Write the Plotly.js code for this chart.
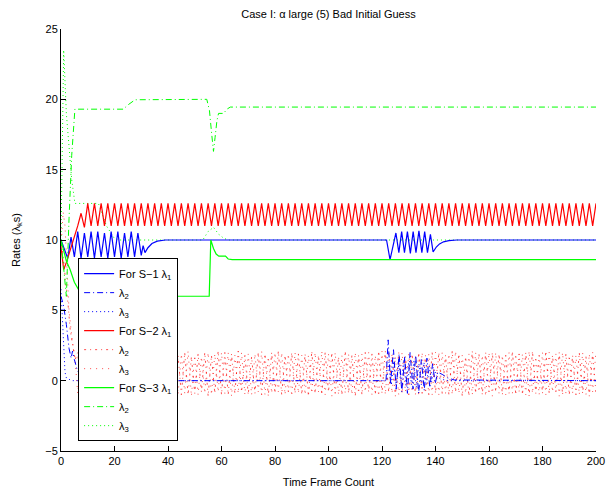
<!DOCTYPE html>
<html><head><meta charset="utf-8">
<script src="https://cdn.plot.ly/plotly-3.0.1.min.js"></script>
<style>html,body{margin:0;padding:0;background:#fff}#plot{width:610px;height:492px}</style>
</head><body><div id="plot"></div>
<script>
// shared time grid for the fast oscillating parts (frames)
const tZig = [6.25,7.5,8.75,10,
11.25,12.5,13.75,15,16.25,17.5,18.75,20,
21.25,22.5,23.75,25,26.25,27.5,28.75,30,
31.25,32.5,33.75,35,36.25,37.5,38.75,40,
41.25,42.5,43.75,45,46.25,47.5,48.75,50,
51.25,52.5,53.75,55,56.25,57.5,58.75,60,
61.25,62.5,63.75,65,66.25,67.5,68.75,70,
71.25,72.5,73.75,75,76.25,77.5,78.75,80,
81.25,82.5,83.75,85,86.25,87.5,88.75,90,
91.25,92.5,93.75,95,96.25,97.5,98.75,100,
101.25,102.5,103.75,105,106.25,107.5,108.75,110,
111.25,112.5,113.75,115,116.25,117.5,118.75,120,
121.25,122.5,123.75,125,126.25,127.5,128.75,130,
131.25,132.5,133.75,135,136.25,137.5,138.75,140,
141.25,142.5,143.75,145,146.25,147.5,148.75,150,
151.25,152.5,153.75,155,156.25,157.5,158.75,160,
161.25,162.5,163.75,165,166.25,167.5,168.75,170,
171.25,172.5,173.75,175,176.25,177.5,178.75,180,
181.25,182.5,183.75,185,186.25,187.5,188.75,190,
191.25,192.5,193.75,195,196.25,197.5,198.75,200];

// S-1 (blue)
const tS1L1 = [0,1.25,2.5,3.75,5,6.25,7.5,8.75,10,11.25,12.5,13.75,15,16.25,17.5,18.75,20,21.25,22.5,23.75,25,26.25,27.5,28.75,30,30.7,31.4,32.5,34,36,39,121.7,123,125.2,126.3,127.35,128.4,129.5,130.6,131.65,132.7,133.8,134.9,135.95,137,138.1,139.1,140.3,141.5,143,145,148,200];
const vS1L1 = [10,9.4,8.7,10.2,8.8,10.6,8.7,10.5,8.8,10.6,8.7,10.6,8.8,10.5,8.7,10.6,8.8,10.6,8.7,10.5,8.8,10.6,8.8,10.5,8.9,9.6,9.1,9.45,9.75,9.92,10,10,8.6,10.5,9.1,10.6,9.1,10.6,9.05,10.6,9.1,10.65,9.1,10.6,9.1,10.4,9.15,9.5,9.72,9.87,9.95,10,10];
const tS1L2 = [0,1,2,3,3.8,4.3,5,6,7,9,12,15,121.5,122.3,123.2,124.3,125.3,126.4,127.4,128.5,129.5,130.5,131.6,132.6,133.7,134.7,135.8,136.8,137.9,138.9,139.9,140.8,142.5,144.5,147,200];
const vS1L2 = [6,5.3,4.0,2.3,1.6,2.1,1.5,0.8,0.4,0.15,0.05,0,0,2.9,-0.2,2.2,-0.6,1.9,-0.8,1.7,-0.9,2.0,-0.6,1.8,-0.9,1.5,-0.7,1.6,-0.5,1.2,-0.2,0.6,0.45,0.2,0.05,0];
const tS1L3 = [0,0.5,1,1.5,2,4,121.8,122.6,123.5,124.4,125.3,126.3,127.2,128.1,129,130,131,131.9,132.8,133.8,134.7,135.7,136.6,137.6,138.5,139.5,140.5,142,145,200];
const vS1L3 = [6.5,4.5,2.5,0.6,0.2,0,0,1.3,-0.3,1.4,-0.4,1.2,-0.2,1.5,-0.4,1.3,-0.3,1.4,-0.5,1.2,-0.3,1.3,-0.2,1.1,-0.1,0.8,0.3,0.1,0,0];

// S-2 (red): start transients, then oscillation on tZig
const tS2L1Start = [0,1,2,3,4,5];
const vS2L1Start = [9.5,7.9,8.4,9.0,9.6,10.2];
const vS2L1Zig = [11.0,11.9,10.9,12.6,
11.0,12.6,11.0,12.6,11.0,12.6,11.0,12.6,
11.0,12.6,11.0,12.6,11.0,12.6,11.0,12.6,
11.0,12.6,11.0,12.6,11.0,12.6,11.0,12.6,
11.0,12.6,11.0,12.6,11.0,12.6,11.0,12.6,
11.0,12.6,11.0,12.6,11.0,12.6,11.0,12.6,
11.0,12.6,11.0,12.6,11.0,12.6,11.0,12.6,
11.0,12.6,11.0,12.6,11.0,12.6,11.0,12.6,
11.0,12.6,11.0,12.6,11.0,12.6,11.0,12.6,
11.0,12.6,11.0,12.6,11.0,12.6,11.0,12.6,
11.0,12.6,11.0,12.6,11.0,12.6,11.0,12.6,
11.0,12.6,11.0,12.6,11.0,12.6,11.0,12.6,
11.0,12.6,11.0,12.6,11.0,12.6,11.0,12.6,
11.0,12.6,11.0,12.6,11.0,12.6,11.0,12.6,
11.0,12.6,11.0,12.6,11.0,12.6,11.0,12.6,
11.0,12.6,11.0,12.6,11.0,12.6,11.0,12.6,
11.0,12.6,11.0,12.6,11.0,12.6,11.0,12.6,
11.0,12.6,11.0,12.6,11.0,12.6,11.0,12.6,
11.0,12.6,11.0,12.6,11.0,12.6,11.0,12.6,
11.0,12.6,11.0,12.6,11.0,12.6,11.0,12.6];
const tS2L2Start = [0,1,2,2.6,3.5,4.5,5.3];
const vS2L2Start = [10,8.5,6.5,5.5,3.5,2.3,1.5];
const vS2L2Zig = [2.0,-0.8,1.9,-1.0,
1.9,-0.9,2.0,-1.0,1.8,-0.9,2.1,-1.0,
2.0,-1.1,1.7,-0.8,2.0,-1.0,1.9,-0.9,
1.8,-1.0,2.1,-0.9,1.9,-0.8,2.0,-1.1,
2.1,-0.9,1.8,-1.0,2.0,-1.0,1.7,-0.9,
1.9,-0.8,2.0,-1.1,1.8,-0.9,2.1,-1.0,
2.0,-1.0,1.9,-0.9,2.1,-0.8,1.8,-1.0,
1.7,-0.9,2.0,-1.0,1.9,-1.1,2.0,-0.9,
2.1,-1.0,1.8,-0.8,2.0,-0.9,1.9,-1.0,
1.9,-1.1,2.1,-0.9,1.8,-1.0,2.0,-0.8,
2.0,-0.9,1.7,-1.0,2.1,-0.9,1.8,-1.1,
1.8,-1.0,2.0,-0.8,1.9,-1.0,2.1,-0.9,
2.1,-0.8,1.9,-1.1,2.0,-0.9,1.7,-1.0,
1.9,-1.0,2.0,-0.9,1.8,-1.0,2.0,-0.9,
2.0,-0.9,1.8,-1.0,2.1,-0.8,1.9,-1.1,
1.7,-1.1,2.1,-0.9,1.9,-1.0,2.0,-0.8,
2.0,-0.8,1.9,-1.0,1.8,-0.9,2.1,-1.0,
1.9,-1.0,2.0,-1.1,2.1,-0.9,1.8,-0.9,
2.1,-0.9,1.8,-0.8,2.0,-1.0,1.9,-1.0,
1.8,-1.0,2.0,-0.9,1.7,-1.1,2.0,-0.9];
const tS2L3Start = [0,0.8,1.5,2.2,3,4,5.2];
const vS2L3Start = [9.5,12,11,8.5,5,3.2,1.6];
const vS2L3Zig = [-0.9,1.8,-1.0,2.0,
-1.0,1.8,-0.9,2.0,-1.1,1.9,-0.8,2.0,
-0.9,2.1,-1.0,1.8,-0.9,2.0,-1.0,1.7,
-1.1,1.9,-0.8,2.0,-1.0,1.8,-0.9,2.1,
-0.8,2.0,-1.0,1.9,-0.9,2.1,-1.1,1.8,
-1.0,1.7,-0.9,2.0,-1.0,1.9,-0.8,2.0,
-0.9,2.0,-1.1,1.8,-0.9,2.0,-1.0,1.9,
-1.0,1.9,-0.8,2.1,-1.0,1.7,-0.9,2.0,
-0.8,2.0,-1.0,1.9,-1.1,2.0,-0.9,1.8,
-1.0,1.8,-0.9,2.0,-0.8,2.1,-1.0,1.9,
-1.1,2.0,-1.0,1.8,-0.9,1.9,-1.0,2.0,
-0.9,1.9,-0.8,2.0,-1.0,1.8,-1.1,2.1,
-1.0,2.1,-0.9,1.7,-1.0,2.0,-0.8,1.9,
-0.8,1.8,-1.1,2.0,-0.9,1.9,-1.0,2.0,
-1.0,2.0,-0.9,1.9,-1.0,2.1,-0.9,1.8,
-0.9,1.9,-1.0,2.0,-0.8,1.8,-1.1,2.0,
-1.1,2.0,-0.9,1.8,-1.0,2.0,-0.9,1.9,
-0.8,1.9,-1.0,2.1,-0.9,1.7,-1.0,2.0,
-1.0,2.0,-0.8,1.9,-1.1,2.0,-0.9,1.8,
-0.9,1.8,-1.0,2.0,-1.0,1.9,-0.8,2.1];

// S-3 (green)
const tS3L1 = [0,1,2,3.4,5,6.5,9,13,20,55.4,56,57,58,59,61.5,62.5,64,200];
const vS3L1 = [10,9.2,8.5,7.9,7.0,6.5,6.2,6.05,6.0,6.0,10.0,9.4,9.0,8.85,8.85,8.65,8.6,8.6];
const tS3L2 = [0,1,2,3,4,5.2,23.3,25,27.7,54.5,55.5,56.3,57,57.6,58.3,58.9,60.8,62,63.3,200];
const vS3L2 = [10,8.2,6,11.5,16,19.3,19.3,19.6,19.97,20,19.2,17.6,16.3,17.3,18.5,19.0,19.0,19.3,19.45,19.45];
const tS3L3 = [0,1,2,3,4,5.2,14,17,20,22,53,55,57,59,61,63,200];
const vS3L3 = [10,23.5,19,16.5,14.3,12.6,12.6,11,10.1,10,10,10.6,10.9,10.4,10.1,10,10];

const legendNames = ['For S\u22121 \u03bb<sub>1</sub>','\u03bb<sub>2</sub>','\u03bb<sub>3</sub>',
  'For S\u22122 \u03bb<sub>1</sub>','\u03bb<sub>2</sub>','\u03bb<sub>3</sub>',
  'For S\u22123 \u03bb<sub>1</sub>','\u03bb<sub>2</sub>','\u03bb<sub>3</sub>'];

const BLUE='#0000ff', RED='#ff0000', GREEN='#00ff00';
const DASHDOT='6px,3px,1px,3px', DOT='1px,3px';

function tr(x,y,name,color,dash,rank,w,op){
  return {type:'scatter',mode:'lines',x:x,y:y,name:name,legendrank:rank,opacity:op||1,
    line:{color:color,width:w||1,dash:dash}};
}

const traces = [
  tr(tS3L3,vS3L3,legendNames[8],GREEN,DOT,9),
  tr(tS2L3Start.concat(tZig),vS2L3Start.concat(vS2L3Zig),legendNames[5],RED,'1px,5px',6,1,0.7),
  tr(tS2L2Start.concat(tZig),vS2L2Start.concat(vS2L2Zig),legendNames[4],RED,'2px,4px,1px,4px',5,1,0.7),
  tr(tS1L3,vS1L3,legendNames[2],BLUE,DOT,3),
  tr(tS1L2,vS1L2,legendNames[1],BLUE,DASHDOT,2),
  tr(tS1L1,vS1L1,legendNames[0],BLUE,'solid',1,1.2),
  tr(tS2L1Start.concat(tZig),vS2L1Start.concat(vS2L1Zig),legendNames[3],RED,'solid',4,1.2),
  tr(tS3L1,vS3L1,legendNames[6],GREEN,'solid',7,1.2),
  tr(tS3L2,vS3L2,legendNames[7],GREEN,DASHDOT,8),
];

const FONT = 'Liberation Sans, Arial, Helvetica, sans-serif';
const layout = {
  width:610, height:492,
  margin:{l:61,r:14,t:29,b:41},
  paper_bgcolor:'#fff', plot_bgcolor:'#fff',
  font:{family:FONT,size:11,color:'#000'},
  title:{text:'Case I: \u03b1 large (5) Bad Initial Guess',font:{family:FONT,size:11,color:'#000'},
    x:0.5,xref:'paper',y:0.972,yref:'container',yanchor:'middle'},
  showlegend:true,
  legend:{x:0.032,y:0.457,xanchor:'left',yanchor:'top',bgcolor:'#fff',bordercolor:'#000',borderwidth:1,
    font:{family:FONT,size:11,color:'#000'},tracegroupgap:0},
  xaxis:{range:[0,200],tickvals:[0,20,40,60,80,100,120,140,160,180,200],
    showgrid:false,zeroline:false,showline:true,linecolor:'#000',linewidth:1,
    ticks:'inside',ticklen:5,tickcolor:'#000',
    tickfont:{family:FONT,size:11,color:'#000'},
    title:{text:'Time Frame Count',font:{family:FONT,size:11,color:'#000'},standoff:12}},
  yaxis:{range:[-5,25],tickvals:[-5,0,5,10,15,20,25],
    showgrid:false,zeroline:false,showline:true,linecolor:'#000',linewidth:1,
    ticks:'inside',ticklen:5,tickcolor:'#000',
    tickfont:{family:FONT,size:11,color:'#000'},
    title:{text:'Rates (\u03bb<sub>k</sub>s)',font:{family:FONT,size:11,color:'#000'},standoff:22}},
};

Plotly.newPlot('plot',traces,layout,{staticPlot:true,displayModeBar:false});
</script>
</body></html>
